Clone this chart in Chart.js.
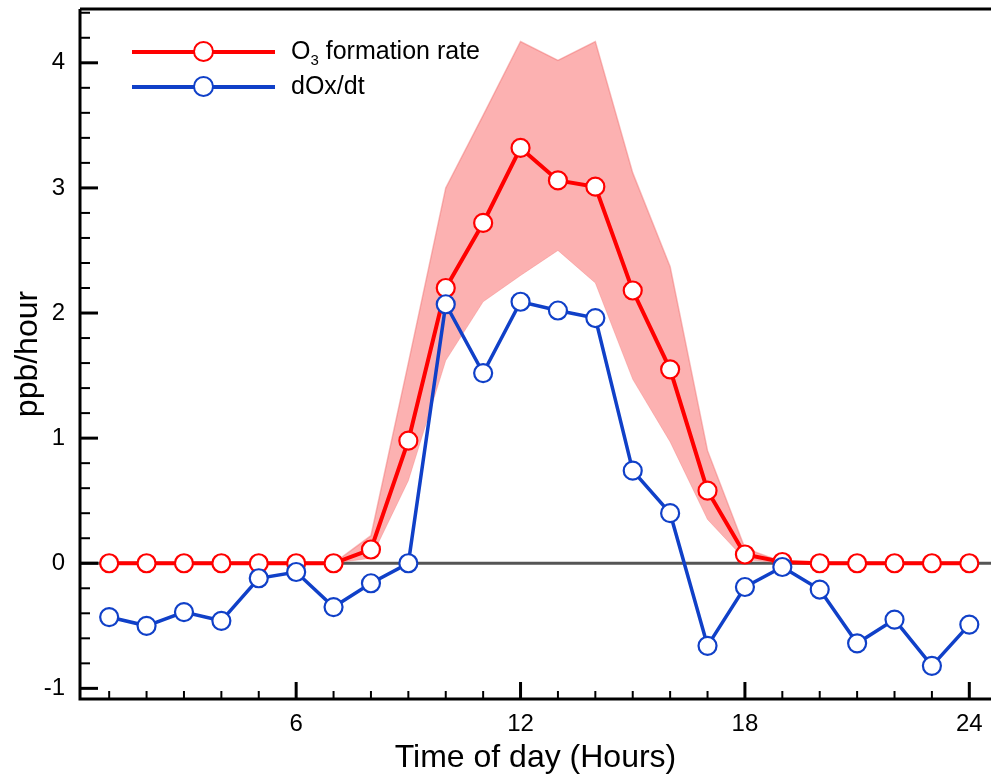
<!DOCTYPE html>
<html>
<head>
<meta charset="utf-8">
<script src="https://cdn.jsdelivr.net/npm/chart.js@4"></script>
<style>
  body { margin: 0; background: #fff; }
  #wrap { position: relative; width: 991px; height: 782px; }
  .key { position: absolute; left: 132px; height: 24px; font: 25px "Liberation Sans", Arial, sans-serif; color: #000; }
  .key .sw { position: absolute; left: 0; top: 0; width: 143px; height: 24px; }
  .key .ln { position: absolute; left: 0; top: 10px; width: 143px; height: 3.5px; }
  .key .pt { position: absolute; left: 61px; top: 1px; width: 17px; height: 17px; border-radius: 50%; background: #fff; border: 2px solid; }
  .key .lab { position: absolute; left: 159px; top: -2px; white-space: nowrap; line-height: 24px; }
  .key sub { font-size: 15px; vertical-align: -6px; line-height: 0; }
</style>
</head>
<body>
<div id="wrap">
  <canvas id="chart" width="991" height="782"></canvas>
  <div class="key" style="top:40px">
    <span class="sw"><i class="ln" style="background:#ff0000"></i><i class="pt" style="border-color:#ff0000"></i></span>
    <span class="lab">O<sub>3</sub> formation rate</span>
  </div>
  <div class="key" style="top:75px">
    <span class="sw"><i class="ln" style="background:#1040c8"></i><i class="pt" style="border-color:#1040c8"></i></span>
    <span class="lab">dOx/dt</span>
  </div>
</div>
<script>
// hours of the day
const hours = [1, 2, 3, 4, 5, 6, 7, 8, 9, 10, 11, 12, 13, 14, 15, 16, 17, 18, 19, 20, 21, 22, 23, 24];

// O3 formation rate (ppb/hour)
const o3Rate = [0, 0, 0, 0, 0, 0, 0, 0.11, 0.98, 2.2, 2.72, 3.32, 3.06, 3.01, 2.18, 1.55, 0.58, 0.07, 0.01, 0, 0, 0, 0, 0];

// dOx/dt (ppb/hour)
const dOxDt = [-0.43, -0.5, -0.39, -0.46, -0.12, -0.07, -0.35, -0.16, 0.0, 2.07, 1.52, 2.09, 2.02, 1.96, 0.74, 0.4,
  -0.66, -0.19, -0.03, -0.21, -0.64, -0.45, -0.82, -0.49];

// shaded range around the O3 formation rate
const bandUpper = [null, null, null, null, null, null, 0, 0.22, 1.6, 3.0, 3.58, 4.17, 4.02, 4.17, 3.12, 2.37, 0.9, 0.12, 0.01, null, null, null, null, null];
const bandLower = [null, null, null, null, null, null, 0, 0.04, 0.66, 1.62, 2.09, 2.3, 2.5, 2.24, 1.47, 0.97, 0.35, 0.03, 0, null, null, null, null, null];

const xMajor = [6, 12, 18, 24];
const yMajor = [-1, 0, 1, 2, 3, 4];

const RED = '#ff0000';
const BLUE = '#1040c8';
const FONT = '"Liberation Sans", Arial, sans-serif';

function pts(values) {
  return hours.map((h, i) => ({ x: h, y: values[i] }));
}

// frame, zero line and inward ticks
const framePlugin = {
  id: 'frame',
  beforeDatasetsDraw(chart) {
    const { ctx, chartArea: a, scales: { y } } = chart;
    ctx.save();
    ctx.strokeStyle = '#555';
    ctx.lineWidth = 3;
    ctx.beginPath();
    ctx.moveTo(a.left, y.getPixelForValue(0));
    ctx.lineTo(a.right, y.getPixelForValue(0));
    ctx.stroke();
    ctx.restore();
  },
  afterDraw(chart) {
    const { ctx, chartArea: a, scales: { x, y } } = chart;
    ctx.save();
    ctx.strokeStyle = '#000';
    ctx.lineWidth = 3;
    ctx.beginPath();
    ctx.moveTo(a.left, a.top);
    ctx.lineTo(a.right, a.top);
    ctx.moveTo(a.left, a.top);
    ctx.lineTo(a.left, a.bottom);
    ctx.lineTo(a.right, a.bottom);
    ctx.stroke();

    // y ticks every 0.2
    for (let k = -5; k <= 22; k++) {
      const v = k / 5;
      const py = y.getPixelForValue(v);
      if (py < a.top + 1 || py > a.bottom - 1) continue;
      const major = yMajor.includes(v);
      ctx.lineWidth = major ? 3 : 2;
      ctx.beginPath();
      ctx.moveTo(a.left, py);
      ctx.lineTo(a.left + (major ? 18 : 10), py);
      ctx.stroke();
    }
    // x ticks every hour
    for (let h = 1; h <= 24; h++) {
      const px = x.getPixelForValue(h);
      const major = xMajor.includes(h);
      ctx.lineWidth = major ? 3 : 2;
      ctx.beginPath();
      ctx.moveTo(px, a.bottom);
      ctx.lineTo(px, a.bottom - (major ? 17 : 8));
      ctx.stroke();
    }
    ctx.restore();
  }
};

new Chart(document.getElementById('chart'), {
  type: 'line',
  data: {
    datasets: [
      {
        label: 'dOx/dt',
        data: pts(dOxDt),
        borderColor: BLUE,
        borderWidth: 3.5,
        pointRadius: 9,
        pointBorderWidth: 2.2,
        pointBackgroundColor: '#fff',
        pointBorderColor: BLUE,
        fill: false
      },
      {
        label: 'O3 formation rate',
        data: pts(o3Rate),
        borderColor: RED,
        borderWidth: 4,
        pointRadius: 9,
        pointBorderWidth: 2.2,
        pointBackgroundColor: '#fff',
        pointBorderColor: RED,
        fill: false
      },
      {
        label: 'upper',
        data: pts(bandUpper),
        borderColor: 'rgba(240, 110, 110, 0.45)',
        borderWidth: 1.5,
        backgroundColor: 'rgba(250, 100, 100, 0.5)',
        pointRadius: 0,
        fill: '+1'
      },
      {
        label: 'lower',
        data: pts(bandLower),
        borderColor: 'rgba(240, 110, 110, 0.3)',
        borderWidth: 1,
        pointRadius: 0,
        fill: false
      }
    ]
  },
  options: {
    responsive: false,
    animation: false,
    layout: { autoPadding: false, padding: { left: 0, right: 0, top: 9, bottom: 0 } },
    plugins: {
      legend: { display: false },
      tooltip: { enabled: false }
    },
    scales: {
      x: {
        type: 'linear',
        min: 0.22,
        max: 24.58,
        grid: { display: false, drawTicks: false },
        border: { display: false },
        ticks: {
          stepSize: 6,
          includeBounds: false,
          autoSkip: false,
          maxRotation: 0,
          padding: 11,
          color: '#000',
          font: { family: FONT, size: 24 }
        },
        title: {
          display: true,
          text: 'Time of day (Hours)',
          color: '#000',
          font: { family: FONT, size: 32 },
          padding: { top: 0, bottom: 5 }
        },
        afterFit(scale) {
          scale.height = 83;
          scale.paddingLeft = 0;
          scale.paddingRight = 0;
        }
      },
      y: {
        min: -1.085,
        max: 4.43,
        grid: { display: false, drawTicks: false },
        border: { display: false },
        ticks: {
          stepSize: 1,
          includeBounds: false,
          autoSkip: false,
          padding: 15,
          color: '#000',
          font: { family: FONT, size: 24 }
        },
        title: {
          display: true,
          text: 'ppb/hour',
          color: '#000',
          font: { family: FONT, size: 32 },
          padding: { top: 9, bottom: 0 }
        },
        afterFit(scale) {
          scale.width = 80;
          scale.paddingTop = 0;
          scale.paddingBottom = 0;
        }
      }
    }
  },
  plugins: [framePlugin]
});
</script>
</body>
</html>
